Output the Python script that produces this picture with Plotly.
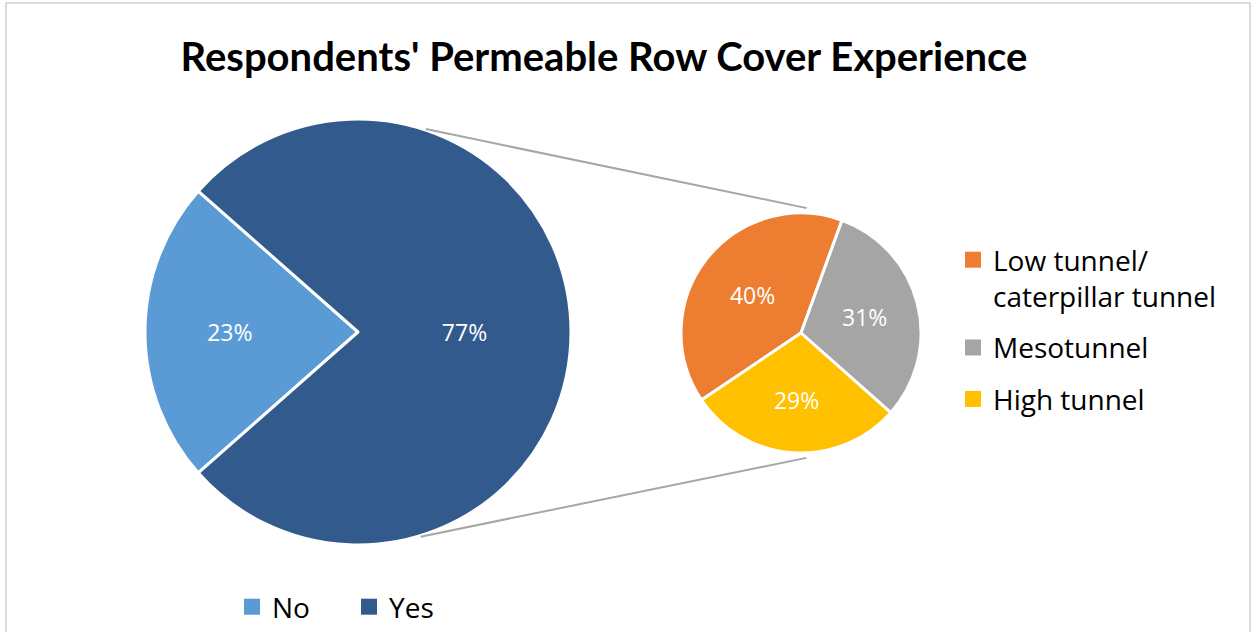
import math
import plotly.graph_objects as go

# Survey answers: has the respondent used permeable row covers?
main_labels = ["No", "Yes"]
main_values = [23, 77]
main_colors = ["#5b9bd5", "#335a8d"]

# Breakdown of the "Yes" answers by tunnel type
sub_labels = ["Low tunnel/<br>caterpillar tunnel", "Mesotunnel", "High tunnel"]
sub_values = [40, 31, 29]
sub_colors = ["#ed7d31", "#a5a5a5", "#ffc000"]

W, H = 1251, 632

# Pie geometry in pixels (centre and radius)
C1 = (358.0, 332.0)
R1 = 213.0
C2 = (801.0, 333.0)
R2 = 120.0

LABEL_FONT = dict(family="Open Sans", size=23, color="white")
LEGEND_FONT = dict(family="Open Sans", size=28, color="black")


def domain(c, r):
    return dict(
        x=[(c[0] - r) / W, (c[0] + r) / W],
        y=[1 - (c[1] + r) / H, 1 - (c[1] - r) / H],
    )


def point(c, r, deg):
    # angle measured clockwise from 12 o'clock, returned in paper coords
    a = math.radians(deg)
    px = c[0] + r * math.sin(a)
    py = c[1] - r * math.cos(a)
    return px / W, 1 - py / H


fig = go.Figure()

no_span = 360 * main_values[0] / sum(main_values)
fig.add_trace(go.Pie(
    labels=main_labels, values=main_values,
    marker=dict(colors=main_colors, line=dict(color="white", width=3)),
    sort=False, direction="clockwise",
    rotation=270 - no_span / 2 - 360,
    textinfo="percent", texttemplate="%{percent:.0%}",
    textposition="inside", insidetextorientation="horizontal",
    textfont=LABEL_FONT,
    domain=domain(C1, R1),
    showlegend=False, hoverinfo="label+percent",
))

fig.add_trace(go.Pie(
    labels=sub_labels, values=sub_values,
    marker=dict(colors=sub_colors, line=dict(color="white", width=3)),
    sort=False, direction="clockwise", rotation=-124,
    textinfo="percent", texttemplate="%{percent:.0%}",
    textposition="inside", insidetextorientation="horizontal",
    textfont=LABEL_FONT,
    domain=domain(C2, R2),
    showlegend=False, hoverinfo="label+percent",
))

# Legend entries with larger square swatches
for lab, col in zip(main_labels, main_colors):
    fig.add_trace(go.Scatter(
        x=[None], y=[None], mode="markers", name=lab,
        marker=dict(symbol="square", size=16, color=col),
        legend="legend", legendgroup=lab, hoverinfo="skip",
    ))
for lab, col in zip(sub_labels, sub_colors):
    fig.add_trace(go.Scatter(
        x=[None], y=[None], mode="markers", name=lab,
        marker=dict(symbol="square", size=16, color=col),
        legend="legend2", legendgroup=lab, hoverinfo="skip",
    ))

# Connector lines from the main pie to the breakdown pie
shapes = []
for a_main, a_sub in [(18.5, 2.6), (163.0, 177.5)]:
    x0, y0 = point(C1, R1 + 1, a_main)
    x1, y1 = point(C2, R2 + 5, a_sub)
    shapes.append(dict(type="line", xref="paper", yref="paper",
                       x0=x0, y0=y0, x1=x1, y1=y1,
                       line=dict(color="#a6a6a6", width=2)))

# Chart-area border
shapes.append(dict(type="rect", xref="paper", yref="paper",
                   x0=6 / W, x1=1250 / W, y0=-0.05, y1=1 - 3 / H,
                   line=dict(color="#d9d9d9", width=2)))

fig.update_layout(
    width=W, height=H,
    margin=dict(l=0, r=0, t=0, b=0),
    paper_bgcolor="white", plot_bgcolor="white",
    xaxis=dict(visible=False), yaxis=dict(visible=False),
    title=dict(text="<b>Respondents' Permeable Row Cover Experience</b>",
               x=604 / W, xanchor="center", y=1 - 57 / H, yanchor="middle",
               font=dict(family="Lato", size=40, color="black")),
    shapes=shapes,
    legend=dict(orientation="h", x=232 / W, y=1 - 607 / H,
                xanchor="left", yanchor="middle", itemsizing="trace",
                entrywidth=72, tracegroupgap=0,
                font=LEGEND_FONT, bgcolor="rgba(0,0,0,0)"),
    legend2=dict(orientation="v", x=953 / W, y=1 - 235 / H,
                 xanchor="left", yanchor="top", valign="top",
                 itemsizing="trace", tracegroupgap=12,
                 font=LEGEND_FONT, bgcolor="rgba(0,0,0,0)"),
    showlegend=True,
)

fig.write_html("out.html")
